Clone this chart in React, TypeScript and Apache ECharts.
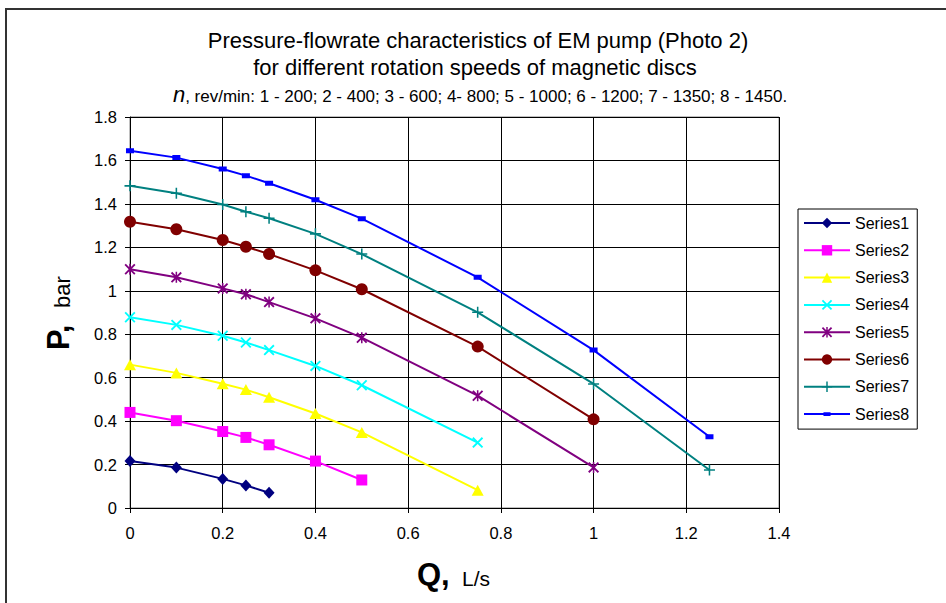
import React, { useEffect, useRef } from 'react';
import * as echarts from 'echarts';

// Flow rate Q, L/s
const flowRates = [0, 0.1, 0.2, 0.25, 0.3, 0.4, 0.5, 0.75, 1.0, 1.25];
// Pressure P, bar
const series1 = [0.216, 0.186, 0.134, 0.104, 0.07];
const series2 = [0.44, 0.402, 0.352, 0.325, 0.291, 0.216, 0.129];
const series3 = [0.66, 0.622, 0.572, 0.545, 0.51, 0.435, 0.348, 0.082];
const series4 = [0.878, 0.843, 0.793, 0.762, 0.727, 0.654, 0.565, 0.301];
const series5 = [1.099, 1.062, 1.011, 0.984, 0.948, 0.873, 0.784, 0.517, 0.187];
const series6 = [1.318, 1.283, 1.234, 1.203, 1.169, 1.094, 1.007, 0.743, 0.408];
const series7 = [1.483, 1.449, 1.397, 1.364, 1.334, 1.262, 1.169, 0.901, 0.571, 0.175];
const series8 = [1.645, 1.613, 1.561, 1.53, 1.495, 1.419, 1.332, 1.062, 0.727, 0.328];

const seriesNames = ['Series1', 'Series2', 'Series3', 'Series4', 'Series5', 'Series6', 'Series7', 'Series8'];
const seriesValues = [series1, series2, series3, series4, series5, series6, series7, series8];

const titleLine1 = 'Pressure-flowrate characteristics of EM pump (Photo 2)';
const titleLine2 = 'for different rotation speeds of magnetic discs';
const titleLine3 = ', rev/min: 1 - 200; 2 - 400; 3 - 600; 4- 800; 5 - 1000; 6 - 1200; 7 - 1350; 8 - 1450.';

const colors = ['#000080', '#FF00FF', '#FFFF00', '#00FFFF', '#800080', '#800000', '#008080', '#0000FF'];
const X_PATH = 'M0,1.2L1.2,0L5,3.8L8.8,0L10,1.2L6.2,5L10,8.8L8.8,10L5,6.2L1.2,10L0,8.8L3.8,5Z';
// small dash marker inside a 10x10 bounding box (corner move-to points keep the box)
const DASH_PATH = 'M0,0L0,0ZM10,10L10,10ZM1.6,3.2L8.4,3.2L8.4,6.8L1.6,6.8Z';
const symbols: any[] = [
  { symbol: 'diamond', size: [11, 12] },
  { symbol: 'rect', size: [11, 11] },
  { symbol: 'triangle', size: [12, 11] },
  { symbol: 'path://' + X_PATH, size: [11, 11] },
  { symbol: 'path://' + X_PATH + 'M4.3,0L5.7,0L5.7,10L4.3,10Z', size: [11, 11] },
  { symbol: 'circle', size: [12, 12] },
  { symbol: 'path://M4.3,0L5.7,0L5.7,4.3L10,4.3L10,5.7L5.7,5.7L5.7,10L4.3,10L4.3,5.7L0,5.7L0,4.3L4.3,4.3Z', size: [11, 11] },
  { symbol: 'path://' + DASH_PATH, size: [11.8, 13.9] },
];

const FONT = '"Liberation Sans", Arial, sans-serif';

export default function App() {
  const ref = useRef<HTMLDivElement>(null);
  useEffect(() => {
    if (!ref.current) return;
    const chart = echarts.init(ref.current, null, { renderer: 'svg' });
    const series = seriesValues.map((vals, i) => ({
      name: seriesNames[i],
      type: 'line',
      data: vals.map((v, j) => [flowRates[j], v]),
      symbol: symbols[i].symbol,
      symbolSize: symbols[i].size,
      showAllSymbol: true,
      lineStyle: { color: colors[i], width: 2 },
      itemStyle: { color: colors[i], borderWidth: 0 },
      emphasis: { disabled: true },
      z: 3 + i,
    }));
    chart.setOption({
      animation: false,
      textStyle: { fontFamily: FONT },
      grid: {
        left: 130, top: 117, right: 167, bottom: 95,
        show: true, borderColor: '#808080', borderWidth: 1, backgroundColor: '#fff',
      },
      xAxis: {
        type: 'value', min: 0, max: 1.4, interval: 0.2,
        axisLine: { show: true, onZero: false, lineStyle: { color: '#000', width: 1 } },
        axisTick: { show: true, length: 5, lineStyle: { color: '#000' } },
        axisLabel: { color: '#000', fontSize: 16.5, margin: 16, fontFamily: FONT },
        splitLine: { show: true, lineStyle: { color: '#000', width: 1 } },
      },
      yAxis: {
        type: 'value', min: 0, max: 1.8, interval: 0.2,
        axisLine: { show: true, onZero: false, lineStyle: { color: '#000', width: 1 } },
        axisTick: { show: true, length: 5, lineStyle: { color: '#000' } },
        axisLabel: { color: '#000', fontSize: 16.5, margin: 13, fontFamily: FONT },
        splitLine: { show: true, lineStyle: { color: '#000', width: 1 } },
      },
      legend: {
        orient: 'vertical',
        left: 798, top: 209,
        width: 120,
        padding: [6, 8, 7, 5],
        itemWidth: 46, itemHeight: 13, itemGap: 11.3,
        borderColor: '#000', borderWidth: 1, backgroundColor: '#fff',
        textStyle: { color: '#000', fontSize: 16, fontFamily: FONT, padding: [0, 0, 0, 0] },
        data: seriesNames,
      },
      graphic: [
        { type: 'line', shape: { x1: 5, y1: 9, x2: 946, y2: 9 }, style: { stroke: '#333', lineWidth: 2 } },
        { type: 'line', shape: { x1: 6, y1: 8, x2: 6, y2: 603 }, style: { stroke: '#333', lineWidth: 2 } },
        { type: 'text', x: 478, y: 40, style: { text: titleLine1, font: `22px ${FONT}`, fill: '#000', textAlign: 'center', textVerticalAlign: 'middle' } },
        { type: 'text', x: 475, y: 67, style: { text: titleLine2, font: `22px ${FONT}`, fill: '#000', textAlign: 'center', textVerticalAlign: 'middle' } },
        {
          type: 'text', x: 480, y: 94,
          style: {
            text: '{i|n}{r|' + titleLine3 + '}',
            textAlign: 'center', textVerticalAlign: 'middle',
            rich: {
              i: { fontSize: 22, fontStyle: 'italic', fontFamily: FONT, fill: '#000', verticalAlign: 'bottom' },
              r: { fontSize: 17, fontFamily: FONT, fill: '#000', verticalAlign: 'bottom' },
            },
          },
        },
        { type: 'text', x: 58, y: 350, rotation: Math.PI / 2, style: { text: 'P,', font: `bold 31px ${FONT}`, fill: '#000', textAlign: 'left', textVerticalAlign: 'middle' } },
        { type: 'text', x: 62, y: 308, rotation: Math.PI / 2, style: { text: 'bar', font: `22px ${FONT}`, fill: '#000', textAlign: 'left', textVerticalAlign: 'middle' } },
        { type: 'text', x: 417, y: 574, style: { text: 'Q,', font: `bold 31px ${FONT}`, fill: '#000', textAlign: 'left', textVerticalAlign: 'middle' } },
        { type: 'text', x: 462, y: 578, style: { text: 'L/s', font: `21px ${FONT}`, fill: '#000', textAlign: 'left', textVerticalAlign: 'middle' } },
      ],
      series,
    });
    return () => chart.dispose();
  }, []);
  return <div ref={ref} style={{ position: 'absolute', left: 0, top: 0, width: 946, height: 603, background: '#fff' }} />;
}
